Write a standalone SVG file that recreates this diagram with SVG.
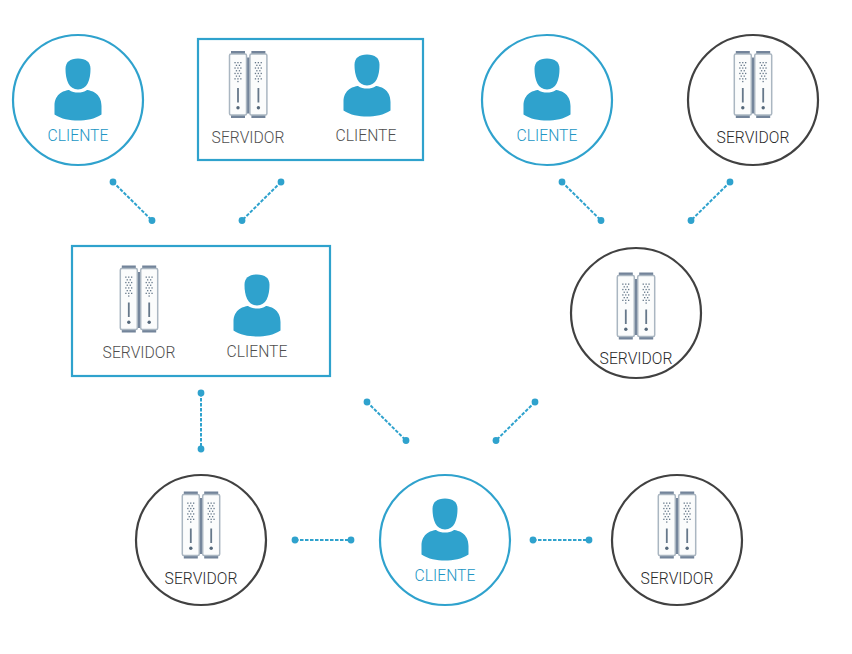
<svg xmlns="http://www.w3.org/2000/svg" xmlns:xlink="http://www.w3.org/1999/xlink" width="852" height="654" viewBox="0 0 852 654">
<style>
.cb{fill:#fff;stroke:#2fa2cd;stroke-width:2.200}
.cd{fill:#fff;stroke:#414141;stroke-width:2.200}
.box{fill:#fff;stroke:#2fa2cd;stroke-width:2.200}
text{font-family:Roboto,"Liberation Sans",sans-serif;font-size:15.7px;font-weight:300;text-anchor:middle}
.tb{fill:#2196c4}.td{fill:#2a2a2a}.tg{fill:#4f4f4f}
.conn line{stroke:#2fa2cd;stroke-width:2;stroke-dasharray:3.500 1.500}
.conn circle{fill:#2fa2cd}
.d{fill:#66788a}
</style>
<defs>
<g id="user"><path fill="#2fa2cd" d="M-12.500-31C-12.500-38-8-41.500 0-41.500C8-41.500 12.500-38 12.500-31C12.500-20 9-10.500 0-10.500C-9-10.500-12.500-20-12.500-31Z"/><path fill="#2fa2cd" d="M-9-10C-6.500-8-3-7.500 0-7.500C3-7.500 6.500-8 9-10C13-9.500 23.500-7 23.500 6L23.500 14.500C17 19 8 20.500 0 20.500C-8 20.500-17 19-23.500 14.500L-23.500 6C-23.500-7-13-9.500-9-10Z"/></g>
<g id="dots">
<rect class="d" x="-3.600" y="-22.500" width="1.300" height="1.300"/><rect class="d" x="-.7" y="-22.500" width="1.300" height="1.300"/><rect class="d" x="2.200" y="-22.500" width="1.300" height="1.300"/>
<rect class="d" x="-2.200" y="-19.800" width="1.300" height="1.300"/><rect class="d" x=".8" y="-19.800" width="1.300" height="1.300"/>
<rect class="d" x="-3.600" y="-17.100" width="1.300" height="1.300"/><rect class="d" x="-.7" y="-17.100" width="1.300" height="1.300"/><rect class="d" x="2.200" y="-17.100" width="1.300" height="1.300"/>
<rect class="d" x="-2.200" y="-14.400" width="1.300" height="1.300"/><rect class="d" x=".8" y="-14.400" width="1.300" height="1.300"/>
<rect class="d" x="-3.600" y="-11.700" width="1.300" height="1.300"/><rect class="d" x="-.7" y="-11.700" width="1.300" height="1.300"/><rect class="d" x="2.200" y="-11.700" width="1.300" height="1.300"/>
<rect class="d" x="-2.200" y="-9" width="1.300" height="1.300"/><rect class="d" x=".8" y="-9" width="1.300" height="1.300"/>
<rect class="d" x="-3.600" y="-6.300" width="1.300" height="1.300"/><rect class="d" x="-.7" y="-6.300" width="1.300" height="1.300"/><rect class="d" x="2.200" y="-6.300" width="1.300" height="1.300"/>
<rect class="d" x="-.7" y="-3.600" width="1.300" height="1.300"/>
<rect x="-.9" y="3.500" width="1.800" height="14.500" fill="#66788a"/><circle cx="0" cy="23.300" r="1.700" fill="#55687a"/></g>
<g id="unit"><rect x="-7" y="-33.500" width="14" height="3.500" fill="#73849a"/><rect x="-7" y="30" width="14" height="3.500" fill="#73849a"/><rect x="-8.500" y="-30.500" width="17" height="61" rx="1.500" fill="#fbfcfc" stroke="#aab6c1" stroke-width="1.500"/><use xlink:href="#dots"/></g>
<g id="server"><rect x="-2" y="-27" width="4" height="56" fill="#73849a"/><use xlink:href="#unit" x="-10.200"/><use xlink:href="#unit" x="10.200"/></g>
</defs>
<g class="conn" id="connectors">
<g><line x1="113" y1="182" x2="152" y2="220.500"/><circle cx="113" cy="182" r="3.400"/><circle cx="152" cy="220.500" r="3.400"/></g>
<g><line x1="281" y1="182" x2="242" y2="220.500"/><circle cx="281" cy="182" r="3.400"/><circle cx="242" cy="220.500" r="3.400"/></g>
<g><line x1="562" y1="182" x2="601" y2="220.500"/><circle cx="562" cy="182" r="3.400"/><circle cx="601" cy="220.500" r="3.400"/></g>
<g><line x1="730" y1="182" x2="691" y2="220.500"/><circle cx="730" cy="182" r="3.400"/><circle cx="691" cy="220.500" r="3.400"/></g>
<g><line x1="201" y1="393" x2="201" y2="449"/><circle cx="201" cy="393" r="3.400"/><circle cx="201" cy="449" r="3.400"/></g>
<g><line x1="367" y1="402" x2="406" y2="440.500"/><circle cx="367" cy="402" r="3.400"/><circle cx="406" cy="440.500" r="3.400"/></g>
<g><line x1="535" y1="402" x2="496" y2="440.500"/><circle cx="535" cy="402" r="3.400"/><circle cx="496" cy="440.500" r="3.400"/></g>
<g><line x1="295" y1="540" x2="351" y2="540"/><circle cx="295" cy="540" r="3.400"/><circle cx="351" cy="540" r="3.400"/></g>
<g><line x1="533" y1="540" x2="589" y2="540"/><circle cx="533" cy="540" r="3.400"/><circle cx="589" cy="540" r="3.400"/></g>
</g>
<g id="n1"><circle class="cb" cx="78" cy="100" r="65"/><use xlink:href="#user" x="78" y="100"/><text class="tb" x="78" y="141">CLIENTE</text></g>
<g id="n2"><rect class="box" x="198" y="39" width="225" height="121"/><use xlink:href="#server" x="248.200" y="84.500"/><text class="tg" x="248" y="143">SERVIDOR</text><use xlink:href="#user" x="367" y="96"/><text class="tg" x="366" y="141">CLIENTE</text></g>
<g id="n3"><circle class="cb" cx="547" cy="100" r="65"/><use xlink:href="#user" x="547" y="100"/><text class="tb" x="547" y="141">CLIENTE</text></g>
<g id="n4"><circle class="cd" cx="753" cy="100" r="65"/><use xlink:href="#server" x="753" y="84.500"/><text class="td" x="753" y="143">SERVIDOR</text></g>
<g id="n5"><rect class="box" x="72" y="246" width="258" height="130"/><use xlink:href="#server" x="139" y="299"/><text class="tg" x="139" y="358">SERVIDOR</text><use xlink:href="#user" x="257" y="316"/><text class="tg" x="257" y="357">CLIENTE</text></g>
<g id="n6"><circle class="cd" cx="636" cy="313" r="65"/><use xlink:href="#server" x="636" y="306"/><text class="td" x="636" y="364">SERVIDOR</text></g>
<g id="n7"><circle class="cd" cx="201" cy="540" r="65"/><use xlink:href="#server" x="201" y="525"/><text class="td" x="201" y="584">SERVIDOR</text></g>
<g id="n8"><circle class="cb" cx="445" cy="540" r="65"/><use xlink:href="#user" x="445" y="540"/><text class="tb" x="445" y="581">CLIENTE</text></g>
<g id="n9"><circle class="cd" cx="677" cy="540" r="65"/><use xlink:href="#server" x="677" y="525"/><text class="td" x="677" y="584">SERVIDOR</text></g>
</svg>
